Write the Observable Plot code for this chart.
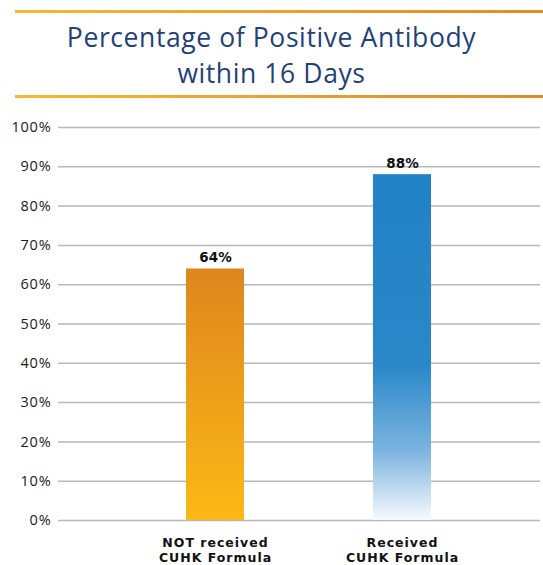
<!DOCTYPE html>
<html>
<head>
<meta charset="utf-8">
<script src="https://cdn.jsdelivr.net/npm/d3@7"></script>
<script src="https://cdn.jsdelivr.net/npm/@observablehq/plot@0.6"></script>
<style>
  html, body { margin: 0; padding: 0; background: #fff; }
  #wrap { position: relative; width: 543px; height: 565px; overflow: hidden; }
  #header { position: relative; width: 543px; height: 100px; }
  .rule { position: absolute; left: 15px; right: 0; height: 3px;
          background: linear-gradient(to right, #f7b733, #e08a2a); }
  .title { position: absolute; left: 0; right: 0; text-align: center;
           font-family: "Open Sans", sans-serif; font-size: 26.5px; line-height: 36px;
           letter-spacing: 0.6px; color: #1f4277; white-space: nowrap; }
  #chart svg { display: block; }
</style>
</head>
<body>
<div id="wrap">
  <div id="header">
    <div class="rule" style="top:10px"></div>
    <div class="title" style="top:19px">Percentage of Positive Antibody</div>
    <div class="title" style="top:55px">within 16 Days</div>
    <div class="rule" style="top:95px"></div>
  </div>
  <div id="chart"></div>
</div>
<script>
const categories = ["NOT received\nCUHK Formula", "Received\nCUHK Formula"];
const values = [0.64, 0.88];
const valueLabels = ["64%", "88%"];
const yTicks = [0, 0.1, 0.2, 0.3, 0.4, 0.5, 0.6, 0.7, 0.8, 0.9, 1.0];
const fills = ["url(#gradOrange)", "url(#gradBlue)"];

const data = categories.map((c, i) => ({cat: c, value: values[i], label: valueLabels[i]}));

const chart = Plot.plot({
  width: 543,
  height: 465,
  marginTop: 27,
  marginBottom: 45,
  marginLeft: 58,
  marginRight: 3,
  style: {background: "transparent", overflow: "visible"},
  x: {domain: categories, paddingInner: 0.691, paddingOuter: 0.6277, align: 0.538, label: null},
  y: {domain: [0, 1], label: null},
  marks: [
    Plot.ruleY(yTicks, {stroke: "#b9b9b9", strokeWidth: 1.5}),
    Plot.axisY({ticks: yTicks, tickSize: 0, tickPadding: 7, tickFormat: d => Math.round(d * 100) + "%",
      fontSize: 14.5, fontFamily: "Open Sans, sans-serif", fill: "#1a1a1a", label: null}),
    Plot.axisX({tickSize: 0, tickPadding: 16, fontSize: 12.5, fontWeight: "bold",
      fontFamily: "DejaVu Sans, sans-serif", fill: "#111", label: null, lineHeight: 1.2}),
    ...data.map((d, i) => Plot.barY([d], {x: "cat", y: "value", fill: fills[i]})),
    Plot.text(data, {x: "cat", y: "value", text: "label", dy: -11, fontSize: 13.5, fontWeight: "bold",
      fontFamily: "DejaVu Sans, sans-serif", fill: "#111"})
  ]
});

const svg = d3.select(chart);
svg.selectAll("text").each(function () {
  const t = this.textContent;
  if (/CUHK/.test(t)) this.style.letterSpacing = "1px";
  else if (/^\d+%$/.test(t) && !valueLabels.includes(t)) this.style.letterSpacing = "0.8px";
});
const defs = svg.insert("defs", ":first-child");
const go = defs.append("linearGradient").attr("id", "gradOrange")
  .attr("x1", 0).attr("y1", 0).attr("x2", 0).attr("y2", 1);
go.append("stop").attr("offset", "0%").attr("stop-color", "#dd861e");
go.append("stop").attr("offset", "100%").attr("stop-color", "#fcb915");
const gb = defs.append("linearGradient").attr("id", "gradBlue")
  .attr("x1", 0).attr("y1", 0).attr("x2", 0).attr("y2", 1);
gb.append("stop").attr("offset", "0%").attr("stop-color", "#2282c6");
gb.append("stop").attr("offset", "55%").attr("stop-color", "#2a87c8");
gb.append("stop").attr("offset", "80%").attr("stop-color", "#7cb4df");
gb.append("stop").attr("offset", "100%").attr("stop-color", "#f7fafd");

document.getElementById("chart").appendChild(chart);
</script>
</body>
</html>
